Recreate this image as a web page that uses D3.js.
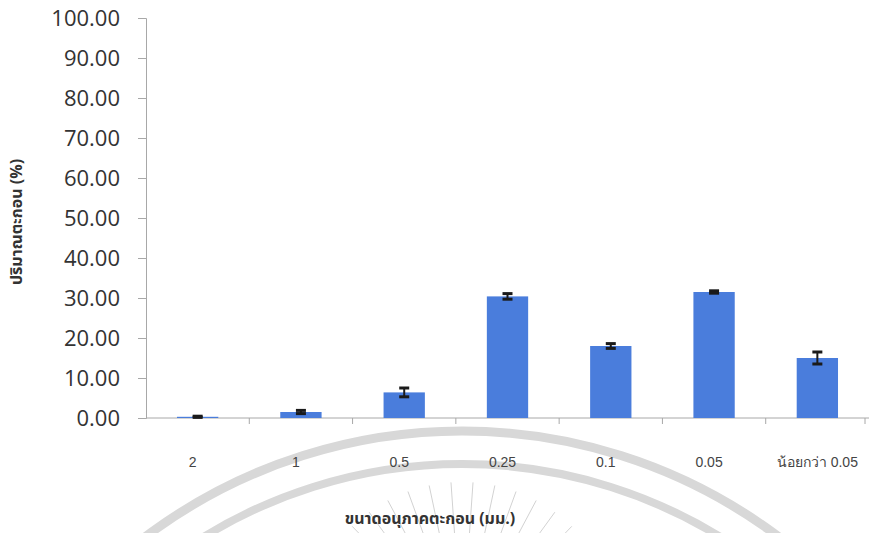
<!DOCTYPE html>
<html><head><meta charset="utf-8">
<script src="https://cdn.jsdelivr.net/npm/d3@7"></script>
<style>body{margin:0;background:#fff}svg{display:block}</style>
</head><body>
<svg id="c" width="870" height="533"></svg>
<script>
const categories = ["2","1","0.5","0.25","0.1","0.05","น้อยกว่า 0.05"];
const values = [0.3, 1.5, 6.4, 30.4, 18.0, 31.5, 15.0];
const errors = [0.15, 0.4, 1.1, 0.7, 0.6, 0.3, 1.5];
const yTicks = [0,10,20,30,40,50,60,70,80,90,100];
const yTitle = "ปริมาณตะกอน (%)";
const xTitle = "ขนาดอนุภาคตะกอน (มม.)";

(function(){
const svg = d3.select("#c");
const mL = 146, mR = 869, mT = 18, mB = 418;

// watermark
const wm = svg.append("g").attr("fill","none").attr("stroke","#d8d8d8");
const arc = (cx, cy, r) => { const p = d3.path(); p.arc(cx, cy, r, Math.PI*1.1, Math.PI*1.9); return p.toString(); };
wm.append("path").attr("d", arc(462, 958, 527)).attr("stroke-width", 9);
wm.append("path").attr("d", arc(462, 958, 494)).attr("stroke-width", 8);
const rays = wm.append("g").attr("stroke","#d2d2d2").attr("stroke-width",1);
for (let a = -52; a <= 52; a += 8) {
  const t = (a - 90) * Math.PI / 180;
  rays.append("line")
    .attr("x1", 462 + 100*Math.cos(t)).attr("y1", 640 + 100*Math.sin(t))
    .attr("x2", 462 + 158*Math.cos(t)).attr("y2", 640 + 158*Math.sin(t));
}

const x = d3.scaleBand().domain(categories).range([mL, mR]).paddingInner(0.6).paddingOuter(0.3);
const xb = d3.scaleBand().domain(categories).range([mL, mR]);
const y = d3.scaleLinear().domain([0, 100]).range([mB, mT]);

// y axis
const ya = svg.append("g").attr("transform", `translate(${mL},0)`)
  .call(d3.axisLeft(y).tickValues(yTicks).tickSize(8).tickPadding(18).tickFormat(d3.format(".2f")));
ya.select(".domain").attr("stroke","#a8a8a8");
ya.selectAll(".tick line").attr("stroke","#a8a8a8");
ya.selectAll(".tick text").attr("font-family","'Open Sans', sans-serif").attr("font-size",22).attr("font-weight",500).attr("fill","#333");

// x axis
const xa = svg.append("g").attr("transform", `translate(0,${mB})`);
xa.append("line").attr("x1", mL).attr("x2", mR).attr("stroke","#a8a8a8");
const tickPos = categories.slice(1).map(c => xb(c)).concat([mR - 4]);
xa.selectAll("line.t").data(tickPos).enter().append("line").attr("class","t")
  .attr("x1", d => d).attr("x2", d => d).attr("y1",0).attr("y2",6).attr("stroke","#a8a8a8");
xa.selectAll("text").data(categories).enter().append("text")
  .attr("x", d => xb(d) + xb.bandwidth()/2 - (d==="น้อยกว่า 0.05" ? 0 : 5))
  .attr("y", 49).attr("text-anchor","middle")
  .attr("font-family","'Liberation Sans Narrow', 'Liberation Sans', sans-serif").attr("font-size",14).attr("fill","#444")
  .text(d => d);

// bars
svg.append("g").selectAll("rect").data(values).enter().append("rect")
  .attr("x", (d,i) => x(categories[i])).attr("width", x.bandwidth())
  .attr("y", d => y(d)).attr("height", d => y(0) - y(d))
  .attr("fill", "#4a7ddc");

// error bars
const eb = svg.append("g").attr("stroke","#1a1a1a");
values.forEach((v,i) => {
  const cx = x(categories[i]) + x.bandwidth()/2;
  const g = eb.append("g");
  g.append("line").attr("x1",cx).attr("x2",cx).attr("y1",y(v+errors[i])).attr("y2",y(v-errors[i])).attr("stroke-width",2);
  g.append("line").attr("x1",cx-5).attr("x2",cx+5).attr("y1",y(v+errors[i])).attr("y2",y(v+errors[i])).attr("stroke-width",3);
  g.append("line").attr("x1",cx-5).attr("x2",cx+5).attr("y1",y(v-errors[i])).attr("y2",y(v-errors[i])).attr("stroke-width",3);
});

// titles
svg.append("text").attr("transform","translate(22,222) rotate(-90)").attr("text-anchor","middle")
  .attr("font-family","'Noto Sans Thai', 'Noto Sans', sans-serif").attr("font-weight","bold").attr("font-size",16).attr("fill","#333")
  .text(yTitle);
svg.append("text").attr("x",430).attr("y",524).attr("text-anchor","middle")
  .attr("font-family","'Noto Sans Thai', 'Noto Sans', sans-serif").attr("font-weight","bold").attr("font-size",16).attr("fill","#333")
  .text(xTitle);
})();
</script>
</body></html>
